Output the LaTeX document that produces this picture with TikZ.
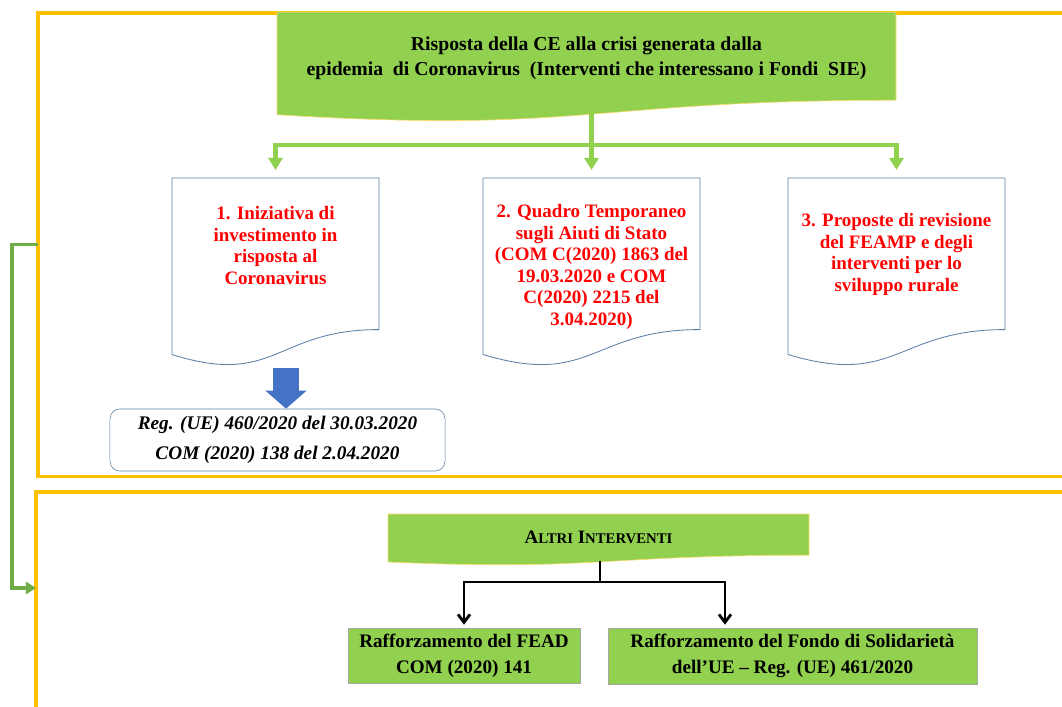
\documentclass[tikz,border=0pt]{standalone}
\usepackage{fontspec}
\setmainfont{Liberation Serif}
\usetikzlibrary{arrows.meta,calc,backgrounds,positioning}

\definecolor{giallo}{HTML}{FFC000}
\definecolor{verde}{HTML}{92D050}
\definecolor{verdescuro}{HTML}{70AD47}
\definecolor{blu}{HTML}{4472C4}
\definecolor{bordoblu}{HTML}{5B7FA6}
\definecolor{rosso}{HTML}{FF0000}

\pgfdeclarelayer{cornici}
\pgfsetlayers{cornici,background,main}

\tikzset{
  stile schema/.style={
      x=0.025cm, y=-0.025cm,
      cornice/.style={draw=giallo, line width=2.2pt, inner sep=0pt, outer sep=0pt},
      titolo/.style={font={\fontsize{14}{17.8}\selectfont\bfseries}, align=center, inner sep=0pt},
      testo rosso/.style={text=rosso, font={\fontsize{13.5}{15.3}\selectfont\bfseries}, align=center, minimum width=5cm, inner sep=0pt},
      regolamento/.style={draw=bordoblu, fill=white, rounded corners=0.25cm, minimum width=8.375cm, minimum height=1.55cm, align=center, font={\fontsize{13.7}{21.3}\selectfont\bfseries\itshape}},
      riquadro/.style={draw=gray!70, fill=verde, align=center, font={\fontsize{13.6}{18.5}\selectfont\bfseries}},
      forma verde/.style={fill=verde, draw=giallo!60, line width=0.4pt},
      forma doc/.style={fill=white, draw=bordoblu, line width=0.6pt},
      ramo verde/.style={draw=verde, line width=3pt},
      freccia verde/.style={ramo verde, -{Triangle[width=0.35cm,length=0.3cm]}, shorten >=0.2cm},
      freccia blu/.style={draw=blu, line width=0.65cm, -{Triangle[width=1cm,length=0.45cm]}},
      freccia scura/.style={draw=verdescuro, line width=2.2pt, -{Triangle[width=0.3cm,length=0.25cm]}},
      ramo nero/.style={draw=black, line width=2pt},
      freccia nera/.style={ramo nero, -{Straight Barb[width=0.3cm,length=0.2cm]}, shorten >=0.075cm},
    },
  documento/.code n args={4}{
      \path[#4] ($(#1.north)+(-#2,0)$) -- ($(#1.north)+(#2,0)$)
        -- ($(#1.north)+(#2,0.802*#3)$)
        .. controls ($(#1.north)+(0,0.802*#3)$) and ($(#1.north)+(0,1.107*#3)$)
        .. ($(#1.north)+(-#2,0.934*#3)$) -- cycle;
    },
}

\begin{document}
\begin{tikzpicture}[stile schema]
    \useasboundingbox (0,0) rectangle (1062,707);

    \begin{pgfonlayer}{cornici}
      \node[cornice, anchor=north west, minimum width=26.6cm, minimum height=11.575cm] (cornice1) at (38,13) {};
      \node[cornice, anchor=north west, minimum width=26.6cm, minimum height=6cm] (cornice2) at (36,492) {};
    \end{pgfonlayer}

    \node[titolo, anchor=north, minimum width=15.475cm, minimum height=2.3cm] (risposta) at (586.5,12) {Risposta della CE alla crisi generata dalla\\ epidemia\ \ di Coronavirus\ \ (Interventi che interessano i Fondi\ \ SIE)};
    \node[testo rosso, anchor=north, minimum height=3.35cm] (doc1) at (275.5,178) {1. Iniziativa di\\ investimento in\\ risposta al\\ Coronavirus};
    \node[testo rosso, anchor=north, minimum height=4.425cm] (doc2) at (591.5,178) {2. Quadro Temporaneo\\ sugli Aiuti di Stato\\ (COM C(2020) 1863 del\\ 19.03.2020 e COM\\ C(2020) 2215 del\\ 3.04.2020)};
    \node[testo rosso, anchor=north, minimum height=3.8cm] (doc3) at (896.5,178) {3. Proposte di revisione\\ del FEAMP e degli\\ interventi per lo\\ sviluppo rurale};
    \node[regolamento] (reg) at (277.5,440) {Reg. (UE) 460/2020 del 30.03.2020\\ COM (2020) 138 del 2.04.2020};

    \node[titolo, anchor=north, minimum width=10.525cm, minimum height=1.15cm] (altri) at (598.5,514) {\fontsize{13.5}{13}\selectfont A{\fontsize{10.5}{13}\selectfont LTRI} I{\fontsize{10.5}{13}\selectfont NTERVENTI}};
    \node[riquadro, minimum width=5.8cm, minimum height=1.375cm] (fead) at (464,655.5) {Rafforzamento del FEAD\\ COM (2020) 141};
    \node[riquadro, minimum width=9.225cm, minimum height=1.4cm] (fondo) at (792.5,656) {Rafforzamento del Fondo di Solidariet\`a\\ dell'UE -- Reg. (UE) 461/2020};

    \begin{pgfonlayer}{background}
      \tikzset{documento={risposta}{309.5}{110}{forma verde}}
      \tikzset{documento={doc1}{103.5}{189}{forma doc}}
      \tikzset{documento={doc2}{108.5}{189}{forma doc}}
      \tikzset{documento={doc3}{108.5}{189}{forma doc}}
      \tikzset{documento={altri}{210.5}{51.4}{forma verde}}
    \end{pgfonlayer}

    \coordinate (ramo) at (591.5,145);
    \draw[ramo verde] (risposta.south -| ramo) -- (ramo);
    \draw[freccia verde] (ramo) -| (doc1.north);
    \draw[freccia verde] (ramo) -- (doc2.north);
    \draw[freccia verde] (ramo) -| (doc3.north);

    \coordinate (blu) at (286,368);
    \draw[freccia blu] (blu) -- (blu |- reg.north);

    \draw[freccia scura] (cornice1.west) -- ++(-26,0) |- ($(cornice2.north west)+(0,96)$);

    \coordinate (nodo) at (600,582);
    \draw[ramo nero] (altri.south -| nodo) -- (nodo);
    \draw[freccia nera] (nodo) -| (fead.north);
    \draw[freccia nera] (nodo) -| ([xshift=-1.6875cm]fondo.north);
\end{tikzpicture}
\end{document}
